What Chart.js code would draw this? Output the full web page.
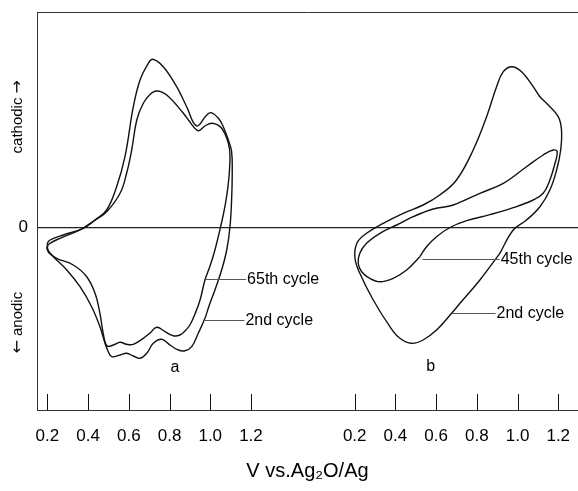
<!DOCTYPE html>
<html>
<head>
<meta charset="utf-8">
<script src="https://cdn.jsdelivr.net/npm/chart.js@4.4.1/dist/chart.umd.min.js"></script>
<style>
  html, body { margin: 0; padding: 0; background: #fff; }
  #wrap { position: relative; width: 578px; height: 491px; }
</style>
</head>
<body>
<div id="wrap"><canvas id="cv"></canvas></div>
<script>
// cyclic voltammograms, electrode a (2nd / 65th cycle) and electrode b (2nd / 45th cycle)
// potential in V vs. Ag2O/Ag, current in arbitrary units (cathodic positive)
var voltsA2 = [0.199,0.213,0.278,0.376,0.434,0.491,0.540,0.581,0.622,0.655,0.696,0.717,0.769,0.835,0.884,0.933,0.983,1.004,1.040,1.064,1.089,1.105,1.108,1.105,1.097,1.081,1.056,1.023,0.994,0.974,0.941,0.909,0.876,0.843,0.802,0.761,0.720,0.688,0.655,0.622,0.589,0.557,0.516,0.499,0.483,0.458,0.417,0.360,0.295,0.229,0.203,0.199];
var currA2 = [-1.56,-1.23,-0.73,-0.06,0.77,1.77,4.10,7.10,12.10,14.77,16.44,16.84,16.10,14.10,12.10,10.17,11.27,11.50,10.94,10.10,8.77,7.60,5.44,2.77,0.10,-2.23,-4.23,-6.23,-7.83,-9.06,-10.56,-11.90,-12.30,-12.23,-11.73,-11.16,-11.56,-12.56,-13.06,-12.83,-12.56,-12.73,-12.90,-12.40,-11.56,-9.90,-7.90,-5.90,-4.23,-2.90,-2.23,-1.56];

var voltsA65 = [0.196,0.208,0.262,0.360,0.424,0.491,0.557,0.589,0.614,0.639,0.671,0.704,0.737,0.786,0.868,0.900,0.941,0.974,1.010,1.056,1.089,1.097,1.089,1.072,1.051,1.023,0.999,0.974,0.950,0.925,0.900,0.876,0.851,0.818,0.778,0.737,0.704,0.671,0.622,0.589,0.557,0.524,0.493,0.474,0.458,0.434,0.393,0.327,0.245,0.208,0.196];
var currA65 = [-2.06,-1.63,-1.06,-0.23,0.62,1.60,3.44,5.44,7.77,10.77,12.44,13.32,13.67,13.27,11.44,10.57,9.70,10.17,10.44,9.94,8.44,7.10,4.44,2.10,0.10,-2.23,-3.83,-5.23,-7.23,-8.63,-9.73,-10.33,-10.73,-10.80,-10.40,-9.96,-10.53,-11.06,-11.66,-11.66,-11.46,-11.73,-11.83,-10.56,-8.56,-6.56,-4.90,-3.73,-3.06,-2.53,-2.06];

var voltsB2 = [0.913,0.815,0.717,0.676,0.602,0.536,0.479,0.422,0.373,0.291,0.225,0.201,0.211,0.258,0.340,0.438,0.536,0.618,0.700,0.782,0.848,0.897,0.930,0.971,1.020,1.077,1.110,1.151,1.200,1.216,1.212,1.192,1.159,1.110,1.044,0.979,0.913];
var currB2 = [-2.56,-5.23,-7.56,-8.56,-10.23,-11.23,-11.56,-11.06,-9.90,-7.23,-4.56,-3.03,-1.53,-0.56,0.44,1.44,2.27,3.27,4.77,7.77,11.10,14.10,15.60,16.10,15.60,14.10,13.10,12.27,11.10,9.77,7.77,5.77,3.77,2.10,0.77,-0.23,-2.56];

var voltsB45 = [0.520,0.455,0.389,0.324,0.274,0.234,0.217,0.225,0.258,0.324,0.406,0.487,0.586,0.684,0.815,0.930,1.044,1.126,1.175,1.195,1.184,1.159,1.126,1.077,0.979,0.864,0.750,0.668,0.602,0.553,0.520];
var currB45 = [-2.90,-4.23,-5.06,-5.40,-5.06,-4.40,-3.56,-2.56,-1.56,-0.56,0.27,1.10,1.87,2.27,3.44,4.44,6.10,7.27,7.77,7.60,6.44,4.77,3.44,2.77,2.00,1.30,0.70,0.02,-0.90,-1.90,-2.90];

var tickVolts = [0.2, 0.4, 0.6, 0.8, 1.0, 1.2];

// panel b shares the x axis, moved right by this many volts
var panelShift = 1.51;

var FONT = '"Liberation Sans", Arial, Helvetica, sans-serif';
var ARROW_FONT = '"DejaVu Sans", sans-serif';

function toPoints(volts, curr, shift) {
    return volts.map(function (v, i) { return { x: v + shift, y: curr[i] }; });
}

function curve(label, volts, curr, shift) {
    return {
        label: label,
        data: toPoints(volts, curr, shift),
        showLine: true,
        borderColor: '#111',
        borderWidth: 1.4,
        pointRadius: 0,
        pointHoverRadius: 0,
        tension: 0.4,
        fill: false
    };
}

// leader-line notes: anchor on the curve (V, current) and where the text starts (V)
var notes = [
    { text: '65th cycle', v: 0.969, i: -5.13, textV: 1.181, shift: 0 },
    { text: '2nd cycle', v: 0.969, i: -9.2, textV: 1.173, shift: 0 },
    { text: '45th cycle', v: 0.533, i: -3.13, textV: 0.917, shift: panelShift },
    { text: '2nd cycle', v: 0.676, i: -8.5, textV: 0.897, shift: panelShift }
];
var panelTags = [
    { text: 'a', v: 0.827, i: -14.03, shift: 0 },
    { text: 'b', v: 0.573, i: -13.9, shift: panelShift }
];

// word + arrow, written bottom-to-top beside the current axis
function sideLabel(ctx, parts, cx, cy) {
    ctx.save();
    ctx.translate(cx, cy);
    ctx.rotate(-Math.PI / 2);
    ctx.textAlign = 'left';
    ctx.textBaseline = 'middle';
    var widths = parts.map(function (p) { ctx.font = p[1]; return ctx.measureText(p[0]).width; });
    var total = widths.reduce(function (s, w) { return s + w; }, 0);
    var pos = -total / 2;
    parts.forEach(function (p, k) {
        ctx.font = p[1];
        ctx.fillText(p[0], pos, 0);
        pos += widths[k];
    });
    ctx.restore();
}

var decor = {
    id: 'cvDecor',
    afterDraw: function (chart) {
        var ctx = chart.ctx, a = chart.chartArea;
        var x = chart.scales.x, y = chart.scales.y;
        ctx.save();

        // top edge of the frame
        ctx.strokeStyle = '#333';
        ctx.lineWidth = 1;
        ctx.beginPath();
        ctx.moveTo(a.left, a.top + 0.5);
        ctx.lineTo(a.right, a.top + 0.5);
        ctx.stroke();

        // tick marks standing up from the bottom axis
        ctx.strokeStyle = '#111';
        x.ticks.forEach(function (t) {
            var px = Math.round(x.getPixelForValue(t.value)) + 0.5;
            ctx.beginPath();
            ctx.moveTo(px, a.bottom);
            ctx.lineTo(px, a.bottom - 16);
            ctx.stroke();
        });

        // sideways labels along the current axis
        ctx.fillStyle = '#000';
        var word = '15px ' + FONT, arrow = '16px ' + ARROW_FONT;
        sideLabel(ctx, [['cathodic ', word], ['\u2192', arrow]], 18, y.getPixelForValue(11.1));
        sideLabel(ctx, [['\u2190', arrow], [' anodic', word]], 18, y.getPixelForValue(-9.5));

        // cycle labels with leader lines
        ctx.font = '16px ' + FONT;
        ctx.textAlign = 'left';
        ctx.textBaseline = 'middle';
        notes.forEach(function (n) {
            var x0 = x.getPixelForValue(n.v + n.shift);
            var x1 = x.getPixelForValue(n.textV + n.shift);
            var py = y.getPixelForValue(n.i);
            ctx.strokeStyle = '#555';
            ctx.lineWidth = 1;
            ctx.beginPath();
            ctx.moveTo(x0, Math.round(py) + 0.5);
            ctx.lineTo(x1 - 1, Math.round(py) + 0.5);
            ctx.stroke();
            ctx.fillText(n.text, x1, py + 1);
        });

        ctx.textAlign = 'center';
        panelTags.forEach(function (p) {
            ctx.fillText(p.text, x.getPixelForValue(p.v + p.shift), y.getPixelForValue(p.i));
        });
        ctx.restore();
    }
};

var tickPositions = tickVolts.concat(tickVolts.map(function (v) { return v + panelShift; }));

new Chart(document.getElementById('cv'), {
    type: 'scatter',
    data: {
        datasets: [
            curve('a, 2nd cycle', voltsA2, currA2, 0),
            curve('a, 65th cycle', voltsA65, currA65, 0),
            curve('b, 2nd cycle', voltsB2, currB2, panelShift),
            curve('b, 45th cycle', voltsB45, currB45, panelShift)
        ]
    },
    options: {
        responsive: true,
        maintainAspectRatio: false,
        animation: false,
        devicePixelRatio: 1,
        layout: { autoPadding: false, padding: { left: 18, top: 12, right: 0, bottom: 4 } },
        plugins: {
            legend: { display: false },
            tooltip: { enabled: false }
        },
        scales: {
            x: {
                type: 'linear',
                min: 0.1487,
                max: 2.8071,
                afterBuildTicks: function (scale) {
                    scale.ticks = tickPositions.map(function (v) { return { value: v }; });
                },
                // fixed axis band, no label overhang padding
                afterFit: function (scale) {
                    scale.height = 77;
                    scale.paddingLeft = 0;
                    scale.paddingRight = 0;
                },
                ticks: {
                    autoSkip: false,
                    maxRotation: 0,
                    padding: 16,
                    color: '#000',
                    font: { family: FONT, size: 17 },
                    callback: function (value) {
                        var v = value > 1.4 ? value - panelShift : value;
                        return v.toFixed(1);
                    }
                },
                grid: { display: false, drawTicks: false, tickLength: 0 },
                border: { display: true, color: '#333', width: 1 },
                title: {
                    display: true,
                    text: 'V vs.Ag\u2082O/Ag',
                    color: '#000',
                    font: { family: FONT, size: 20 },
                    padding: { top: 12, bottom: 4 }
                }
            },
            y: {
                min: -18.23,
                max: 21.57,
                afterBuildTicks: function (scale) {
                    scale.ticks = [{ value: 0 }];
                },
                afterFit: function (scale) {
                    scale.width = 19;
                    scale.paddingTop = 0;
                    scale.paddingBottom = 0;
                },
                ticks: {
                    padding: 9,
                    color: '#000',
                    font: { family: FONT, size: 17 },
                    callback: function () { return '0'; }
                },
                grid: { drawTicks: false, tickLength: 0, color: '#222', lineWidth: 1.2 },
                border: { display: true, color: '#333', width: 1 }
            }
        }
    },
    plugins: [decor]
});
</script>
</body>
</html>
